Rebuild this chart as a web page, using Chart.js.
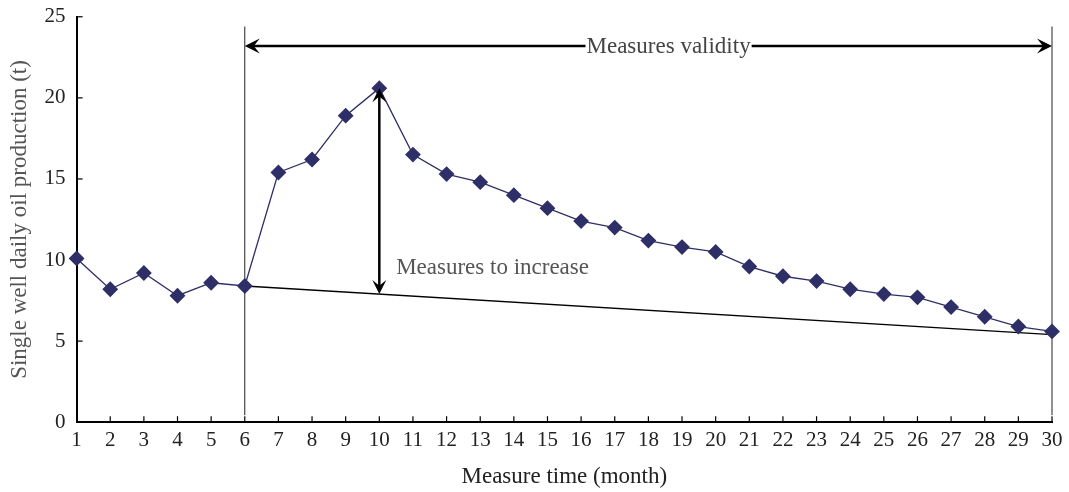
<!DOCTYPE html>
<html>
  <head>
    <title>Measure effect</title>
    <style>
      body { margin: 0; background: #fff; }
      #wrap { width: 1069px; height: 492px; }
    </style>
  </head>
  <body>
    <div id="wrap">
      <canvas id="canvas"></canvas>
    </div>
    <script src="https://cdn.jsdelivr.net/npm/chart.js@4.4.0/dist/chart.umd.min.js"></script>
    <script>
      // data
      const months = ["1","2","3","4","5","6","7","8","9","10","11","12","13","14","15",
        "16","17","18","19","20","21","22","23","24","25","26","27","28","29","30"];
      const production = [10.1, 8.2, 9.2, 7.8, 8.6, 8.4, 15.4, 16.2, 18.9, 20.6,
        16.5, 15.3, 14.8, 14.0, 13.2, 12.4, 12.0, 11.2, 10.8, 10.5,
        9.6, 9.0, 8.7, 8.2, 7.9, 7.7, 7.1, 6.5, 5.9, 5.6];
      const yTicks = [0, 5, 10, 15, 20, 25];
      // trend line without measures, from month 6 to month 30
      const trendFrom = ["6", 8.4];
      const trendTo = ["30", 5.4];
      // annotations
      const validityRange = ["6", "30"];
      const validityLevel = 23.2;
      const validityTop = 24.4;
      const validityText = "Measures validity";
      const validityTextAt = 18.6;
      const increaseMonth = "10";
      const increaseTop = 20.6;
      const increaseText = "Measures to increase";
      const increaseTextAt = [10.5, 9.5];

      const trend = months.map((m) =>
        m === trendFrom[0] ? trendFrom[1] : m === trendTo[0] ? trendTo[1] : null
      );

      const serif = "'Liberation Serif', 'Times New Roman', serif";

      function arrowHead(ctx, x, y, dx, dy, size) {
        const len = Math.hypot(dx, dy);
        const ux = dx / len, uy = dy / len;
        ctx.beginPath();
        ctx.moveTo(x, y);
        ctx.lineTo(x - ux * size - uy * size * 0.5, y - uy * size + ux * size * 0.5);
        ctx.lineTo(x - ux * size * 0.6, y - uy * size * 0.6);
        ctx.lineTo(x - ux * size + uy * size * 0.5, y - uy * size - ux * size * 0.5);
        ctx.closePath();
        ctx.fill();
      }

      const annotations = {
        id: "annotations",
        beforeDatasetsDraw(chart) {
          const { ctx, scales } = chart;
          const xs = scales.x, ys = scales.y;
          ctx.save();
          // inward ticks on both axes
          ctx.strokeStyle = "#000";
          ctx.lineWidth = 1.2;
          months.forEach((m, i) => {
            const px = xs.getPixelForValue(i);
            ctx.beginPath();
            ctx.moveTo(px, ys.bottom);
            ctx.lineTo(px, ys.bottom - 6);
            ctx.stroke();
          });
          yTicks.forEach((v) => {
            const py = ys.getPixelForValue(v);
            ctx.beginPath();
            ctx.moveTo(xs.left, py);
            ctx.lineTo(xs.left + 6, py);
            ctx.stroke();
          });
          // vertical boundaries of validity
          ctx.lineWidth = 1;
          ctx.strokeStyle = "#222";
          validityRange.forEach((m) => {
            const px = xs.getPixelForValue(months.indexOf(m));
            ctx.beginPath();
            ctx.moveTo(px, ys.getPixelForValue(validityTop));
            ctx.lineTo(px, ys.bottom - 7);
            ctx.stroke();
          });
          ctx.restore();
        },
        afterDatasetsDraw(chart) {
          const { ctx, scales } = chart;
          const xs = scales.x, ys = scales.y;
          ctx.save();
          ctx.strokeStyle = "#000";
          ctx.fillStyle = "#000";
          ctx.lineWidth = 2.5;
          ctx.font = "23px " + serif;
          // horizontal validity arrow with text gap
          const x1 = xs.getPixelForValue(months.indexOf(validityRange[0]));
          const x2 = xs.getPixelForValue(months.indexOf(validityRange[1]));
          const yv = ys.getPixelForValue(validityLevel);
          const tx = xs.getPixelForValue(validityTextAt - 1);
          const tw = ctx.measureText(validityText).width;
          ctx.beginPath();
          ctx.moveTo(x1 + 8, yv);
          ctx.lineTo(tx - tw / 2 - 1, yv);
          ctx.moveTo(tx + tw / 2 + 1, yv);
          ctx.lineTo(x2 - 8, yv);
          ctx.stroke();
          arrowHead(ctx, x1, yv, -1, 0, 15);
          arrowHead(ctx, x2, yv, 1, 0, 15);
          ctx.fillStyle = "#444";
          ctx.textAlign = "center";
          ctx.textBaseline = "middle";
          ctx.fillText(validityText, tx, yv + 1);

          // vertical increase arrow
          const idx = months.indexOf(increaseMonth);
          const i0 = months.indexOf(trendFrom[0]), i1 = months.indexOf(trendTo[0]);
          const base = trendFrom[1] + (trendTo[1] - trendFrom[1]) * (idx - i0) / (i1 - i0);
          const xa = xs.getPixelForValue(idx);
          const yb = ys.getPixelForValue(base);
          const yt = ys.getPixelForValue(increaseTop);
          ctx.fillStyle = "#000";
          ctx.beginPath();
          ctx.moveTo(xa, yb - 8);
          ctx.lineTo(xa, yt + 8);
          ctx.stroke();
          arrowHead(ctx, xa, yt, 0, -1, 14);
          arrowHead(ctx, xa, yb, 0, 1, 14);
          ctx.fillStyle = "#555";
          ctx.textAlign = "left";
          ctx.fillText(increaseText, xs.getPixelForValue(increaseTextAt[0] - 1), ys.getPixelForValue(increaseTextAt[1]));
          ctx.restore();
        }
      };

      new Chart(document.getElementById("canvas").getContext("2d"), {
        type: "line",
        data: {
          labels: months,
          datasets: [
            {
              label: "Production",
              data: production,
              borderColor: "#2f2f68",
              backgroundColor: "#2f2f68",
              borderWidth: 1.3,
              pointStyle: "rectRot",
              pointRadius: 7,
              pointHoverRadius: 7,
              tension: 0
            },
            {
              label: "Trend",
              data: trend,
              spanGaps: true,
              borderColor: "#000",
              borderWidth: 1.3,
              pointRadius: 0,
              tension: 0
            }
          ]
        },
        options: {
          responsive: true,
          maintainAspectRatio: false,
          animation: false,
          layout: { padding: { left: 2, right: 17, top: 1, bottom: 1 } },
          plugins: {
            legend: { display: false },
            tooltip: { enabled: false }
          },
          scales: {
            x: {
              offset: false,
              grid: { display: false, drawTicks: false },
              border: { display: true, color: "#000", width: 2 },
              ticks: {
                color: "#222",
                font: { family: serif, size: 21 },
                maxRotation: 0,
                autoSkip: false,
                padding: 6
              },
              title: {
                display: true,
                text: "Measure time (month)",
                color: "#222",
                font: { family: serif, size: 23 },
                padding: { top: 4, bottom: 0 }
              }
            },
            y: {
              min: 0,
              max: 25,
              grid: { display: false, drawTicks: false },
              border: { display: true, color: "#000", width: 2 },
              afterBuildTicks: (axis) => {
                axis.ticks = yTicks.map((v) => ({ value: v }));
              },
              ticks: {
                color: "#222",
                font: { family: serif, size: 21, lineHeight: 0.55 },
                padding: 11
              },
              title: {
                display: true,
                text: "Single well daily oil production (t)",
                color: "#555",
                font: { family: serif, size: 23 },
                padding: { top: 4, bottom: 0 }
              }
            }
          }
        },
        plugins: [annotations]
      });
    </script>
  </body>
</html>
